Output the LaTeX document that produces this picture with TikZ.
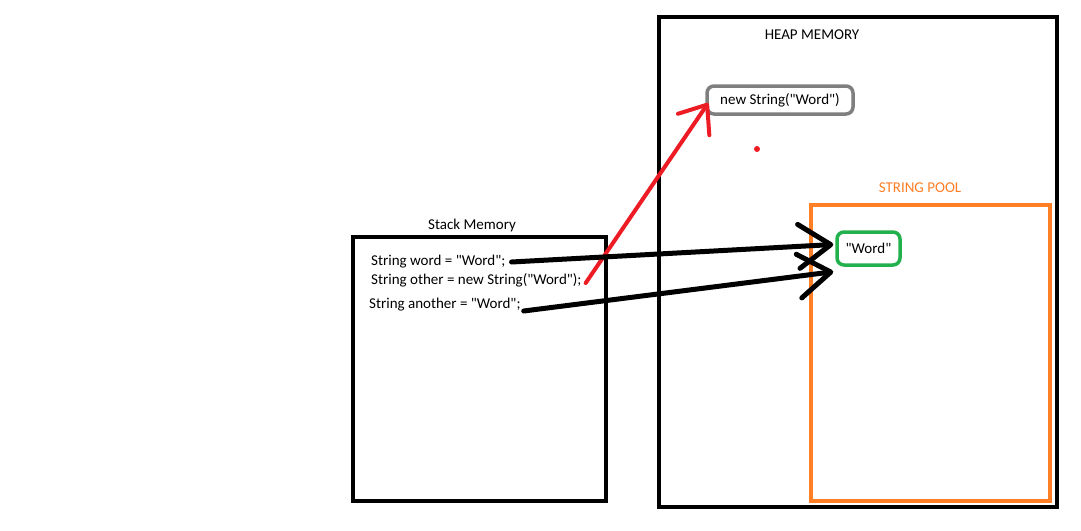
\documentclass[tikz,border=0pt]{standalone}
\usepackage{fontspec}
\setmainfont{Carlito}[Ligatures=TeXOff]
\usepackage{xcolor}
\usetikzlibrary{arrows.meta,positioning}
\definecolor{paintred}{RGB}{237,28,36}
\definecolor{paintorange}{RGB}{255,127,39}
\definecolor{paintgreen}{RGB}{34,177,76}
\definecolor{paintgray}{RGB}{127,127,127}
\newcommand{\paintfont}{\fontsize{15}{17}\selectfont}
\tikzset{
    mem-box/.style = {draw=black, line width=4pt, rectangle, inner sep=0pt},
    pool-box/.style = {draw=paintorange, line width=4pt, rectangle, inner sep=0pt},
    obj-box/.style = {draw=paintgray, line width=3.5pt, rectangle, rounded corners=7pt, inner sep=0pt, font=\paintfont},
    box-title/.style = {inner sep=0pt, font=\paintfont},
    code-line/.style = {anchor=west, inner sep=0pt, font=\paintfont},
    ref-arrow/.style = {draw=black, line width=5pt, line cap=round, -{Straight Barb[length=32pt, width=44pt, round]}},
    new-arrow/.style = {draw=paintred, line width=4pt, line cap=round, -{Straight Barb[length=24pt, width=38pt, round]}},
}

\begin{document}
\begin{tikzpicture}[x=1pt, y=-1pt]
\useasboundingbox[fill=white] (0,0) rectangle (1081,530);

% memory areas
\node [mem-box, minimum width=253pt, minimum height=264pt] (stack) at (479.5,369) {};
\node [box-title] (stack-title) at (472,225) {Stack Memory};
\node [mem-box, minimum width=398pt, minimum height=490pt] (heap) at (858,262) {};
\node [box-title] (heap-title) at (812,35) {HEAP MEMORY};
\node [pool-box, minimum width=239pt, minimum height=296pt] (pool) at (930.5,353) {};
\node [box-title, text=paintorange] (pool-title) at (920,188) {STRING POOL};

% objects
\node [obj-box, minimum width=146pt, minimum height=28pt] (newobj) at (780,100) {new String("Word")};
\node [obj-box, draw=paintgreen, minimum width=63pt, minimum height=33pt] (literal) at (868.5,248.5) {"Word"};
\fill [paintred] (757,149) circle (3pt);

% code
\node [code-line] (word) at (371,262) {String word = "Word";};
\node [code-line] (other) at (371,280) {String other = new String("Word");};
\node [code-line] (another) at (369,305) {String another = "Word";};

% references
\draw [new-arrow] ([xshift=4pt, yshift=-3pt]other.east) -- ([xshift=3pt, yshift=-3pt]newobj.west);
\draw [ref-arrow] ([xshift=6pt]word.east) -- ([xshift=-2pt, yshift=4pt]literal.west);
\draw [ref-arrow] ([xshift=3pt, yshift=-6pt]another.east) -- ([xshift=-2pt, yshift=-5pt]literal.south west);
\end{tikzpicture}
\end{document}
